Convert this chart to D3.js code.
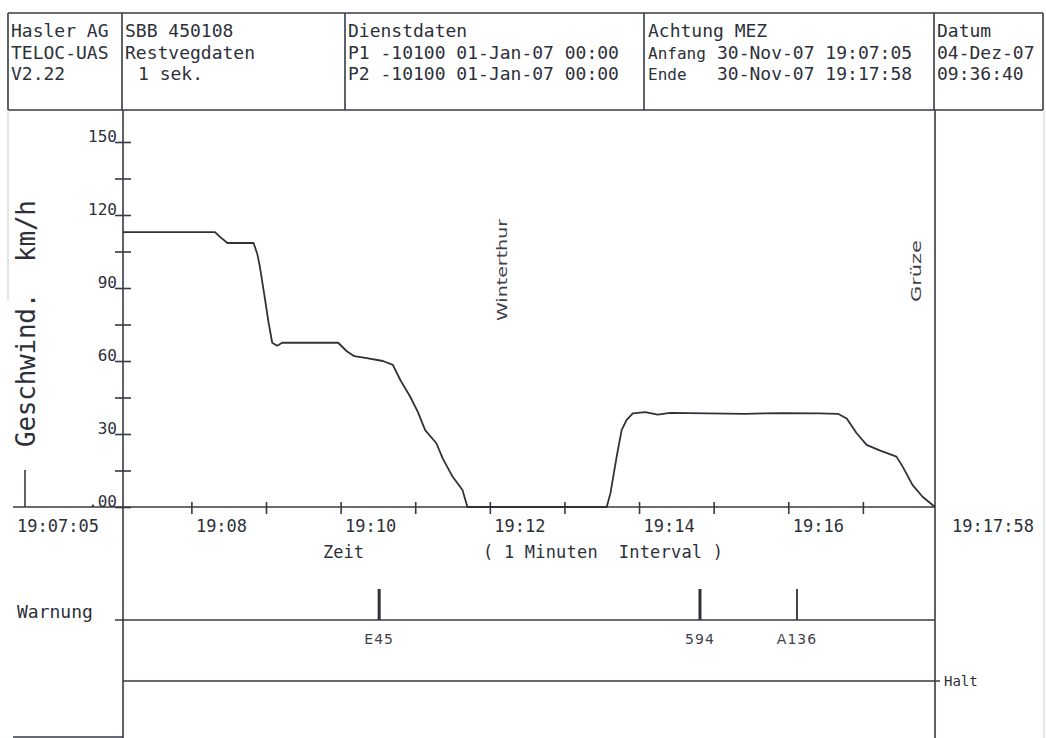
<!DOCTYPE html>
<html>
<head>
<meta charset="utf-8">
<script src="https://cdn.jsdelivr.net/npm/d3@7"></script>
<style>
body{margin:0;background:#fff}
svg{display:block;background:#fff}
.hd{font-family:"DejaVu Sans Mono",monospace;font-size:18px;fill:#2d3039}
.ax{font-family:"DejaVu Sans Mono",monospace;font-size:17px;fill:#2d3039}
.ln{stroke:#363a44;stroke-width:1.6;fill:none}
.hand{font-family:"DejaVu Sans",sans-serif;font-size:14px;fill:#3f424c}
</style>
</head>
<body>
<svg id="chart" width="1046" height="738"></svg>
<script>
// Kopfzeile
var headerFirma = ["Hasler AG", "TELOC-UAS", "V2.22"];
var headerLok = ["SBB 450108", "Restvegdaten", "1 sek."];
var headerDienst = ["Dienstdaten", "P1 -10100 01-Jan-07 00:00", "P2 -10100 01-Jan-07 00:00"];
var headerZeitLabels = ["Achtung MEZ", "Anfang", "Ende"];
var headerZeitValues = ["", "30-Nov-07 19:07:05", "30-Nov-07 19:17:58"];
var headerDatum = ["Datum", "04-Dez-07", "09:36:40"];

// Zeitachse
var timeStart = "19:07:05";
var timeEnd = "19:17:58";

// Geschwindigkeit km/h
var speedTimes = ["19:07:05","19:08:19","19:08:23","19:08:29","19:08:50","19:08:53","19:08:55","19:08:59",
  "19:09:02","19:09:05","19:09:09","19:09:13","19:09:58","19:10:05","19:10:11","19:10:21","19:10:34",
  "19:10:42","19:10:48","19:10:56","19:11:02","19:11:08","19:11:17","19:11:22","19:11:30","19:11:38",
  "19:11:42","19:13:34","19:13:37","19:13:42","19:13:46","19:13:50","19:13:55","19:14:05","19:14:15",
  "19:14:25","19:14:55","19:15:25","19:15:55","19:16:25","19:16:40","19:16:47","19:16:55","19:17:03",
  "19:17:14","19:17:27","19:17:32","19:17:40","19:17:48","19:17:58"];
var speedValues = [113,113,111,108.5,108.5,104,99,86,
  76,67.5,66.3,67.5,67.5,64,62,61.2,60,
  58.4,52.2,45.3,39.2,31.6,26.2,20.1,12.5,7,
  0,0,5.7,20.7,31.6,35.8,38.5,39,38,
  38.7,38.5,38.3,38.6,38.5,38.3,36.4,30.3,25.5,
  23.2,20.7,16.6,9,4.2,0];

var yTickValues = [0,30,60,90,120,150];
var yTickLabels = [".00","30","60","90","120","150"];

// Warnungen
var warnTimes = ["19:10:31","19:14:49","19:16:07"];
var warnLabels = ["E45","594","A136"];
var warnKind = ["major","major","minor"];

// handschriftliche Notizen
var noteTimes = ["19:12:14","19:17:47"];
var noteLabels = ["Winterthur","Grüze"];

var svg = d3.select('#chart');
var parse = d3.timeParse("%H:%M:%S");
var left = 123, right = 935, yZero = 507, yTop = 142;

var x = d3.scaleTime().domain([parse(timeStart), parse(timeEnd)]).range([left, right]);
var y = d3.scaleLinear().domain([0,150]).range([yZero, yTop]);

// Rahmen
function line(x1,y1,x2,y2,cls){
    return svg.append('line').attr('class', cls||'ln')
      .attr('x1',x1).attr('y1',y1).attr('x2',x2).attr('y2',y2);
}
line(8,13,1043,13);
line(8,110,1043,110);
line(8,13,8,110);
[122,345,644,934].forEach(function(cx){ line(cx,13,cx,110); });
line(1043,13,1043,110);
line(1044,110,1044,738).style('stroke','#c9cbd0').style('stroke-width',1);
line(8,110,8,300).style('stroke','#c9cbd0').style('stroke-width',1);
line(left,110,left,738);
line(right,110,right,738);
line(13,yZero,right,yZero);
line(25,470,25,yZero);
line(13,737,left,737);

// Kopftexte
function headerCol(arr, xs, size){
    arr.forEach(function(t,i){
	var tx = svg.append('text').attr('class','hd')
	  .attr('x', (typeof xs === 'number') ? xs : xs[i])
	  .attr('y', 37 + i*21.5)
	  .text(t);
	if(size && i > 0) tx.style('font-size', size+'px');
    });
}
headerCol(headerFirma, 11);
headerCol(headerLok, [125,125,138]);
headerCol(headerDienst, 348);
headerCol(headerZeitLabels, 648, 16);
headerCol(headerZeitValues, 717);
headerCol(headerDatum, 937);

// y Achse
var yAxis = d3.axisLeft(y)
    .tickValues(d3.range(0,151,15))
    .tickSize(0)
    .tickFormat(function(d){
	var i = yTickValues.indexOf(d);
	return i >= 0 ? yTickLabels[i] : "";
    });
var gy = svg.append('g').attr('transform','translate('+left+',0)').call(yAxis);
gy.select('.domain').remove();
gy.selectAll('.tick line').attr('x1',-8).attr('x2',8).attr('class','ln');
gy.selectAll('.tick text')
    .attr('class','ax').style('font-size','16px')
    .attr('x',-6).attr('y',-1).attr('dy',0)
    .attr('text-anchor','end');
gy.attr('font-family',null).attr('font-size',null);

// x Achse
var fmt = d3.timeFormat("%H:%M");
var xAxis = d3.axisBottom(x)
    .ticks(d3.timeMinute.every(1))
    .tickSize(0)
    .tickFormat(function(d){ return d.getMinutes()%2===0 ? fmt(d) : ""; });
var gx = svg.append('g').attr('transform','translate(0,'+yZero+')').call(xAxis);
gx.select('.domain').remove();
gx.selectAll('.tick line').attr('y1',-5).attr('y2',7).attr('class','ln');
gx.selectAll('.tick text')
    .attr('class','ax')
    .attr('x',4).attr('y',25).attr('dy',0)
    .attr('text-anchor','start');
gx.attr('font-family',null).attr('font-size',null);

svg.append('text').attr('class','ax').attr('x',17).attr('y',532).text(timeStart);
svg.append('text').attr('class','ax').attr('x',952).attr('y',532).text(timeEnd);
svg.append('text').attr('class','ax').attr('x',323).attr('y',558).text("Zeit");
svg.append('text').attr('class','ax').attr('x',483).attr('y',558)
    .attr('textLength',240).attr('lengthAdjust','spacing')
    .style('white-space','pre')
    .text("( 1 Minuten  Interval )");

// Achsentitel
svg.append('text').attr('class','ax')
    .attr('transform','translate(35,447) rotate(-90)')
    .style('font-size','26px').style('white-space','pre')
    .attr('textLength',247).attr('lengthAdjust','spacing')
    .text("Geschwind.  km/h");

// Geschwindigkeitskurve
var pts = speedTimes.map(function(t,i){ return {t: parse(t), v: speedValues[i]}; });
var speedLine = d3.line()
    .x(function(d){ return x(d.t); })
    .y(function(d){ return y(d.v); });
svg.append('path').datum(pts)
    .attr('d', speedLine)
    .attr('fill','none')
    .attr('stroke','#2f323b')
    .attr('stroke-width',1.8)
    .attr('stroke-linejoin','round');

// Notizen
noteTimes.forEach(function(t,i){
    var cx = x(parse(t));
    svg.append('text').attr('class','hand')
      .attr('transform','translate('+cx+','+(i===0 ? 321 : 302)+') rotate(-90)')
      .attr('textLength', i===0 ? 102 : 62).attr('lengthAdjust','spacingAndGlyphs')
      .text(noteLabels[i]);
});

// Warnung / Halt
var yWarn = 620, yHalt = 681;
svg.append('text').attr('class','hd').attr('x',17).attr('y',618).text("Warnung");
line(115,yWarn,right,yWarn);
line(left,yHalt,940,yHalt);
svg.append('text').attr('class','hd').style('font-size','14px').attr('x',944).attr('y',686).text("Halt");

var warnG = svg.selectAll('g.warn')
    .data(warnTimes.map(function(t,i){ return {t: parse(t), label: warnLabels[i], kind: warnKind[i]}; }))
    .enter().append('g').attr('class','warn')
    .attr('transform', function(d){ return 'translate('+x(d.t)+',0)'; });
warnG.append('line')
    .attr('y1',yWarn).attr('y2',589)
    .attr('stroke','#2f323b')
    .attr('stroke-width', function(d){ return d.kind==='major' ? 3 : 1.8; });
warnG.append('text').attr('class','hand')
    .attr('text-anchor','middle')
    .attr('y',644)
    .style('letter-spacing','1px')
    .text(function(d){ return d.label; });
</script>
</body>
</html>
